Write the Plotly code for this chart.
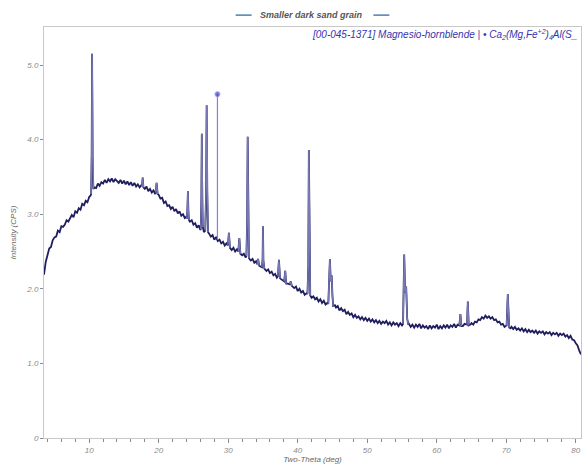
import plotly.graph_objects as go

# ---- data ----
background_theta = [
    3.5, 3.75, 4.0, 4.25, 4.5, 4.75, 5.0, 5.25, 5.5, 5.75, 6.0, 6.25, 6.5, 6.75, 7.0, 7.25,
    7.5, 7.75, 8.0, 8.25, 8.5, 8.75, 9.0, 9.25, 9.5, 9.75, 10.0, 10.2,
    10.75, 11.0, 11.25, 11.5, 11.75, 12.0, 12.25, 12.5, 12.75, 13.0, 13.25, 13.5, 13.75,
    14.0, 14.25, 14.5, 14.75, 15.0, 15.25, 15.5, 15.75, 16.0, 16.25, 16.5, 16.75, 17.0,
    17.25, 17.5, 18.0, 18.25, 18.5, 18.75, 19.0, 19.25, 19.5, 20.0, 20.25, 20.5, 20.75,
    21.0, 21.25, 21.5, 21.75, 22.0, 22.25, 22.5, 22.75, 23.0, 23.25, 23.5, 23.75, 24.0,
    24.5, 24.75, 25.0, 25.25, 25.5, 25.75, 26.0, 26.5, 27.25, 27.5, 27.75, 28.0, 28.25,
    28.5, 28.75, 29.0, 29.25, 29.5, 29.75, 30.5, 30.75, 31.0, 31.25, 32.0, 32.25, 32.5,
    33.25, 33.5, 33.75, 34.0, 34.65, 35.5, 35.75, 36.0, 36.25, 36.5, 36.75, 37.0, 37.75,
    38.6, 39.5, 39.75, 40.0, 40.25, 40.5, 40.75, 41.0, 41.25, 42.0, 42.25, 42.5, 42.75,
    43.0, 43.25, 43.5, 43.75, 44.0, 44.25, 45.35, 45.5, 45.75, 46.0, 46.25, 46.5, 46.75,
    47.0, 47.25, 47.5, 47.75, 48.0, 48.25, 48.5, 48.75, 49.0, 49.25, 49.5, 49.75, 50.0,
    50.25, 50.5, 50.75, 51.0, 51.25, 51.5, 51.75, 52.0, 52.25, 52.5, 52.75, 53.0, 53.25,
    53.5, 53.75, 54.0, 54.25, 54.5, 54.75, 55.0, 56.0, 56.25, 56.5, 56.75, 57.0, 57.25,
    57.5, 57.75, 58.0, 58.25, 58.5, 58.75, 59.0, 59.25, 59.5, 59.75, 60.0, 60.25, 60.5,
    60.75, 61.0, 61.25, 61.5, 61.75, 62.0, 62.25, 62.5, 62.75, 63.0, 63.75, 64.0, 64.85,
    65.0, 65.25, 65.5, 65.75, 66.0, 66.25, 66.5, 66.75, 67.0, 67.25, 67.5, 67.75, 68.0,
    68.25, 68.5, 68.75, 69.0, 69.25, 69.5, 69.75, 70.6, 70.75, 71.0, 71.25, 71.5, 71.75,
    72.0, 72.25, 72.5, 72.75, 73.0, 73.25, 73.5, 73.75, 74.0, 74.25, 74.5, 74.75, 75.0,
    75.25, 75.5, 75.75, 76.0, 76.25, 76.5, 76.75, 77.0, 77.25, 77.5, 77.75, 78.0, 78.25,
    78.5, 78.75, 79.0, 79.25, 79.5, 79.75, 80.0, 80.25, 80.5, 80.75]
background_cps = [
    2.19, 2.36, 2.45, 2.54, 2.56, 2.65, 2.69, 2.70, 2.78, 2.76, 2.84, 2.83, 2.86, 2.92, 2.90, 2.95,
    2.99, 2.96, 3.04, 3.02, 3.08, 3.06, 3.14, 3.12, 3.18, 3.16, 3.23, 3.25,
    3.36, 3.35, 3.41, 3.38, 3.43, 3.41, 3.46, 3.42, 3.47, 3.44, 3.48, 3.43, 3.47,
    3.45, 3.42, 3.46, 3.41, 3.45, 3.40, 3.44, 3.39, 3.43, 3.38, 3.42, 3.37, 3.40,
    3.36, 3.39, 3.34, 3.37, 3.31, 3.34, 3.29, 3.32, 3.27, 3.26, 3.21, 3.22, 3.15,
    3.17, 3.11, 3.12, 3.07, 3.10, 3.04, 3.07, 3.01, 3.04, 2.98, 3.00, 2.95, 2.97,
    2.90, 2.92, 2.86, 2.88, 2.82, 2.85, 2.79, 2.76, 2.74, 2.70, 2.72, 2.66, 2.69,
    2.64, 2.66, 2.61, 2.63, 2.58, 2.61, 2.52, 2.55, 2.50, 2.53, 2.45, 2.47, 2.42,
    2.38, 2.40, 2.35, 2.37, 2.30, 2.24, 2.26, 2.21, 2.23, 2.18, 2.20, 2.15, 2.12,
    2.07, 2.01, 2.03, 1.97, 2.00, 1.95, 1.97, 1.92, 1.94, 1.88, 1.90, 1.86, 1.88,
    1.83, 1.86, 1.81, 1.84, 1.79, 1.81, 1.78, 1.75, 1.77, 1.71, 1.74, 1.70, 1.72,
    1.66, 1.69, 1.65, 1.67, 1.62, 1.65, 1.61, 1.63, 1.59, 1.62, 1.58, 1.61, 1.57,
    1.60, 1.56, 1.59, 1.55, 1.58, 1.54, 1.57, 1.53, 1.56, 1.54, 1.57, 1.52, 1.55,
    1.51, 1.55, 1.52, 1.54, 1.50, 1.54, 1.51, 1.53, 1.49, 1.52, 1.48, 1.52, 1.49,
    1.53, 1.47, 1.51, 1.48, 1.50, 1.46, 1.51, 1.47, 1.50, 1.48, 1.52, 1.46, 1.50,
    1.47, 1.51, 1.48, 1.52, 1.47, 1.51, 1.49, 1.53, 1.48, 1.52, 1.50, 1.53, 1.52,
    1.54, 1.52, 1.56, 1.55, 1.59, 1.58, 1.62, 1.60, 1.64, 1.61, 1.63, 1.60, 1.62,
    1.58, 1.59, 1.55, 1.56, 1.52, 1.53, 1.49, 1.47, 1.49, 1.46, 1.49, 1.45, 1.47,
    1.44, 1.47, 1.43, 1.46, 1.42, 1.45, 1.42, 1.44, 1.41, 1.44, 1.40, 1.43, 1.41,
    1.43, 1.39, 1.42, 1.40, 1.42, 1.38, 1.41, 1.39, 1.41, 1.37, 1.40, 1.38, 1.40,
    1.36, 1.38, 1.34, 1.37, 1.32, 1.31, 1.27, 1.24, 1.17, 1.12]

peak_theta = [10.28, 10.36, 10.42, 10.48, 10.6,
              17.6, 17.7, 17.8,
              19.55, 19.7, 19.85,
              24.05, 24.15, 24.2, 24.27, 24.35,
              26.05, 26.14, 26.2, 26.27, 26.35,
              26.7, 26.82, 26.9, 26.97, 27.1,
              29.95, 30.1, 30.25,
              31.45, 31.6, 31.75,
              32.62, 32.72, 32.8, 32.87, 32.98,
              34.15, 34.3, 34.45,
              34.85, 34.95, 35.0, 35.06, 35.2,
              37.15, 37.3, 37.45,
              38.05, 38.2, 38.35,
              38.85, 39.0, 39.15,
              41.4, 41.52, 41.6, 41.68, 41.8,
              44.4, 44.55, 44.63, 44.75, 44.88, 45.0, 45.1,
              55.15, 55.25, 55.32, 55.45, 55.6, 55.75, 55.9,
              63.25, 63.4, 63.55,
              64.35, 64.47, 64.6,
              70.05, 70.15, 70.22, 70.32, 70.42]
peak_cps = [3.27, 3.8, 5.15, 3.8, 3.34,
            3.38, 3.49, 3.36,
            3.29, 3.42, 3.27,
            2.94, 3.10, 3.31, 3.05, 2.92,
            2.80, 3.20, 4.08, 3.20, 2.83,
            2.78, 3.30, 4.46, 3.30, 2.76,
            2.58, 2.75, 2.55,
            2.50, 2.68, 2.47,
            2.44, 2.90, 4.04, 2.90, 2.41,
            2.33, 2.40, 2.31,
            2.29, 2.40, 2.84, 2.38, 2.27,
            2.17, 2.39, 2.14,
            2.10, 2.24, 2.07,
            2.06, 2.10, 2.04,
            1.93, 2.30, 3.86, 2.30, 1.91,
            1.80, 2.10, 2.40, 2.10, 2.18, 1.90, 1.77,
            1.53, 1.90, 2.46, 1.95, 2.03, 1.60, 1.52,
            1.51, 1.66, 1.50,
            1.52, 1.83, 1.51,
            1.51, 1.75, 1.93, 1.70, 1.48]

stick_theta = [28.45]
stick_base = [2.66]
stick_cps = [4.61]

y_tick_vals = [0, 1, 2, 3, 4, 5]
y_tick_text = ["0", "1.0", "2.0", "3.0", "4.0", "5.0"]
x_tick_vals = [10, 20, 30, 40, 50, 60, 70, 80]

series_name = "Smaller dark sand grain"
phase_label = ("[00-045-1371] Magnesio-hornblende | \u2022 Ca<sub>2</sub>(Mg,Fe<sup>+2</sup>)"
               "<sub>4</sub>Al(S_")

# ---- merge measured scan ----
pairs = sorted(zip(background_theta + peak_theta, background_cps + peak_cps))
scan_x = [p[0] for p in pairs]
scan_y = [p[1] for p in pairs]

# peak overlay, separated into individual peaks
peak_x, peak_y = [], []
for i, (t, c) in enumerate(zip(peak_theta, peak_cps)):
    if i > 0 and t - peak_theta[i - 1] > 0.3:
        peak_x.append(None)
        peak_y.append(None)
    peak_x.append(t)
    peak_y.append(c)

FONT = "Liberation Sans, Arial, sans-serif"
FRAME = "#c8c8c8"
TICKC = "#8a8a8a"

fig = go.Figure()

fig.add_trace(go.Scatter(x=scan_x, y=scan_y, mode="lines",
                         line=dict(color="#1e1e5e", width=1.8),
                         name=series_name, showlegend=False))
fig.add_trace(go.Scatter(x=peak_x, y=peak_y, mode="lines", connectgaps=False,
                         line=dict(color="#7878b4", width=1.4),
                         showlegend=False))

for t, b, c in zip(stick_theta, stick_base, stick_cps):
    fig.add_trace(go.Scatter(x=[t, t], y=[b, c], mode="lines+markers",
                             line=dict(color="#8080e6", width=1.2),
                             marker=dict(size=[0, 5], color="#3a3ad0"),
                             showlegend=False))

fig.update_layout(
    width=585, height=465,
    margin=dict(l=44, r=3, t=27, b=23),
    paper_bgcolor="white", plot_bgcolor="white",
    font=dict(family=FONT, color=TICKC, size=8),
    showlegend=False,
    xaxis=dict(range=[3.5, 80.75], showgrid=False, zeroline=False,
               showline=True, linecolor=FRAME, linewidth=1, mirror=True,
               tickmode="array", tickvals=x_tick_vals,
               ticks="outside", ticklen=4, tickcolor=TICKC, tickwidth=1,
               tickfont=dict(size=8, color=TICKC, family=FONT, style="italic"),
               minor=dict(dtick=2, tick0=0, ticks="outside", ticklen=3, tickcolor=TICKC),
               title=dict(text="<i>Two-Theta (deg)</i>", font=dict(size=8, color="#666"),
                          standoff=2)),
    yaxis=dict(range=[0, 5.51], showgrid=False, zeroline=False,
               showline=True, linecolor=FRAME, linewidth=1, mirror=True,
               tickmode="array", tickvals=y_tick_vals, ticktext=y_tick_text,
               ticks="outside", ticklen=3, tickcolor=TICKC,
               tickfont=dict(size=8, color=TICKC, family=FONT, style="italic"),
               title=dict(text="<i>Intensity (CPS)</i>", font=dict(size=8, color="#666"),
                          standoff=8)),
)


def px_x(p):
    return (p - 44) / 538.0


def px_y(p):
    return (465 - 23 - p) / 415.0


fig.add_annotation(xref="paper", yref="paper", x=px_x(312), y=px_y(15),
                   text="<b><i>" + series_name + "</i></b>", showarrow=False,
                   font=dict(size=9, color="#555555", family=FONT),
                   xanchor="center", yanchor="middle")
for x0, x1 in [(236, 252), (374, 390)]:
    fig.add_shape(type="line", xref="paper", yref="paper",
                  x0=px_x(x0), x1=px_x(x1), y0=px_y(15), y1=px_y(15),
                  line=dict(color="#4a80b4", width=1.5))

fig.add_annotation(xref="paper", yref="paper", x=px_x(580), y=px_y(35),
                   text="<i>" + phase_label + "</i>", showarrow=False,
                   font=dict(size=10, color="#3434b0", family=FONT),
                   xanchor="right", yanchor="middle")

fig.write_html("out.html")
